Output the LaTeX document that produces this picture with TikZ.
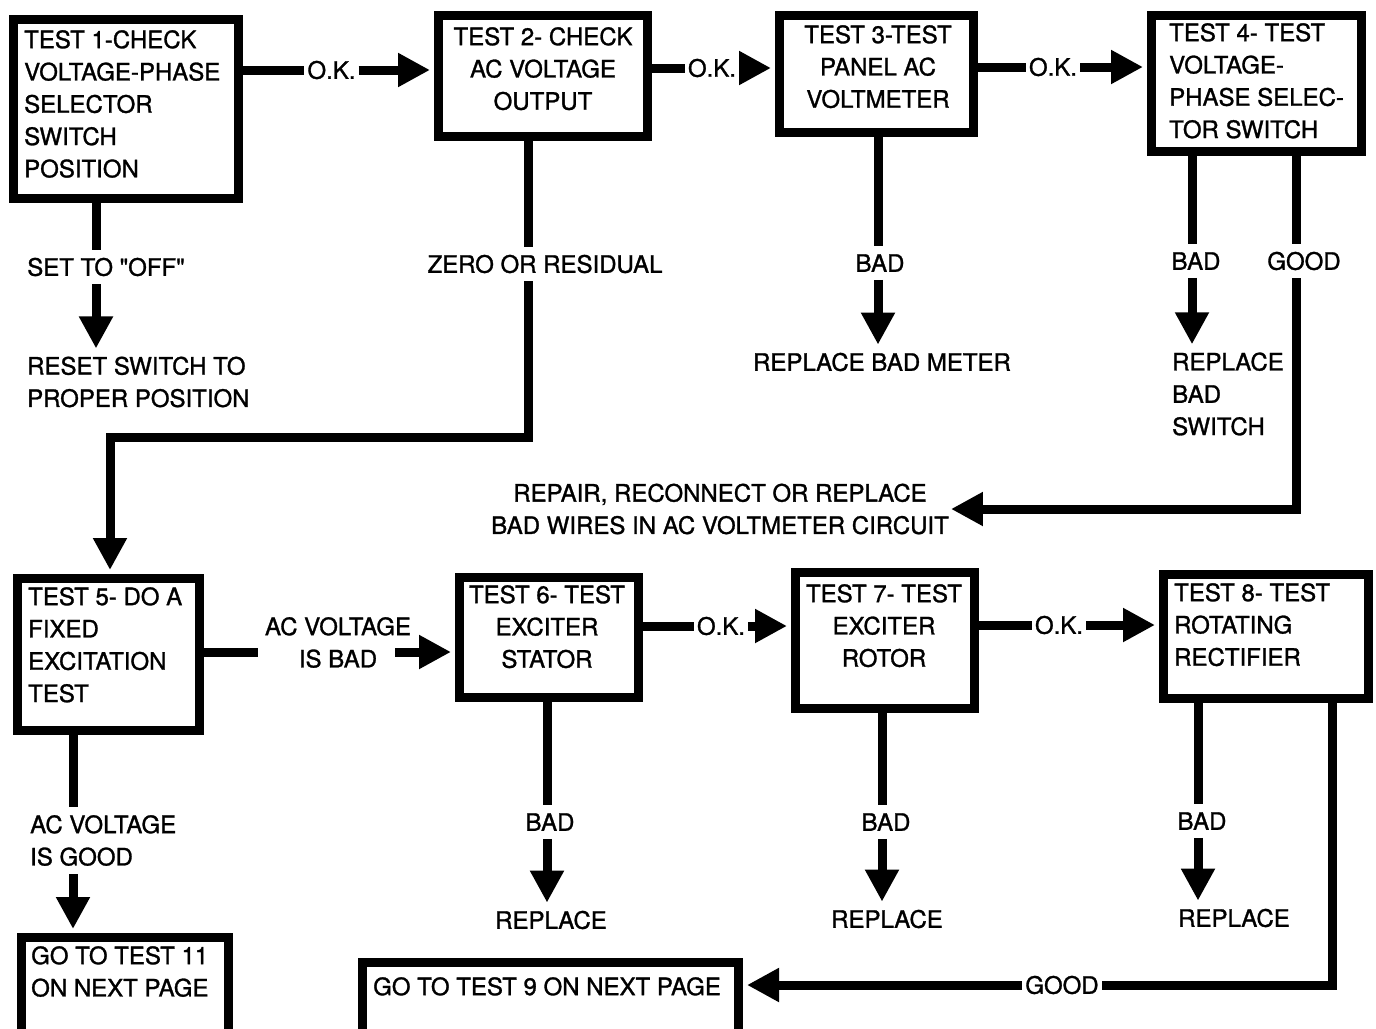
\documentclass[tikz,border=0pt]{standalone}
\usepackage{fontspec}
\setmainfont{TeX Gyre Heros}[Ligatures=TeXOff, FakeBold=1.2]
\usetikzlibrary{arrows.meta,calc}
\newcommand\dsz{\fontsize{24}{32.3}\selectfont}
\tikzset{
  box/.style={draw, line width=9pt, inner sep=0pt},
  txt/.style={inner sep=0pt, font=\dsz, align=left},
  ctxt/.style={inner sep=0pt, font=\dsz, align=center},
  lbl/.style={inner xsep=3pt, inner ysep=8pt, font=\dsz, align=center},
  tgt/.style={inner xsep=2pt, inner ysep=8pt, font=\dsz},
  wire/.style={line width=9pt},
  arr/.style={wire, -{Triangle[length=32pt,width=32pt]}},
  tobox/.style={shorten >=4pt}
}
\begin{document}
\begin{tikzpicture}[x=1pt,y=-1pt]
\useasboundingbox[fill=white] (0,0) rectangle (1376,1028);
% boxes
\node[box, minimum width=225pt, minimum height=179pt] (b1) at (126,109) {};
\node[box, minimum width=209pt, minimum height=121pt] (b2) at (543,76) {};
\node[box, minimum width=194pt, minimum height=117pt] (b3) at (876.5,74) {};
\node[box, minimum width=210pt, minimum height=136pt] (b4) at (1256.5,83.5) {};
\node[box, minimum width=182pt, minimum height=152pt] (b5) at (108.5,654.5) {};
\node[box, minimum width=179pt, minimum height=120pt] (b6) at (549,637.5) {};
\node[box, minimum width=179pt, minimum height=136pt] (b7) at (885,640.5) {};
\node[box, minimum width=205pt, minimum height=124pt] (b8) at (1266,636.5) {};
\node[box, minimum width=207pt, minimum height=103pt] (b9) at (125,989) {};
\node[box, minimum width=376pt, minimum height=78pt] (b10) at (550.5,1001.5) {};
% box texts
\node[txt, anchor=north west] (t1) at (24,30) {TEST 1-CHECK\\VOLTAGE-PHASE\\SELECTOR\\SWITCH\\POSITION};
\node[ctxt, anchor=north] (t2) at (543,27) {TEST 2- CHECK\\AC VOLTAGE\\OUTPUT};
\node[ctxt, anchor=north] (t3) at (878,25) {TEST 3-TEST\\PANEL AC\\VOLTMETER};
\node[txt, anchor=north west] (t4) at (1169,23) {TEST 4- TEST\\VOLTAGE-\\PHASE SELEC-\\TOR SWITCH};
\node[txt, anchor=north west] (t5) at (28,587) {TEST 5- DO A\\FIXED\\EXCITATION\\TEST};
\node[ctxt, anchor=north] (t6) at (547,585) {TEST 6- TEST\\EXCITER\\STATOR};
\node[ctxt, anchor=north] (t7) at (884,584) {TEST 7- TEST\\EXCITER\\ROTOR};
\node[txt, anchor=north west] (t8) at (1174,583) {TEST 8- TEST\\ROTATING\\RECTIFIER};
\node[txt, anchor=north west] (t9) at (31,946) {GO TO TEST 11\\ON NEXT PAGE};
\node[txt, anchor=north west] (t10) at (373,977) {GO TO TEST 9 ON NEXT PAGE};
% labels
\node[lbl] (ok1) at (331.5,70) {O.K.};
\node[lbl] (ok2) at (712,68) {O.K.};
\node[lbl] (ok3) at (1053,67) {O.K.};
\node[lbl] (set) at (106,267) {SET TO "OFF"};
\node[tgt, anchor=west, align=left] (reset) at (25,382) {RESET SWITCH TO\\PROPER POSITION};
\node[lbl] (zero) at (545,264) {ZERO OR RESIDUAL};
\node[lbl] (bad3) at (880,263) {BAD};
\node[tgt] (rmeter) at (882,362) {REPLACE BAD METER};
\node[lbl] (bad4) at (1196,261) {BAD};
\node[lbl] (good4) at (1304,261) {GOOD};
\node[tgt, anchor=west, align=left] (rswitch) at (1170,394) {REPLACE\\BAD\\SWITCH};
\node[tgt, align=center] (repair) at (720,509) {REPAIR, RECONNECT OR REPLACE\\BAD WIRES IN AC VOLTMETER CIRCUIT};
\node[lbl] (acbad) at (338,642.5) {AC VOLTAGE\\IS BAD};
\node[lbl, anchor=west, align=left] (acgood) at (27,840.5) {AC VOLTAGE\\IS GOOD};
\node[lbl] (ok4) at (721,626) {O.K.};
\node[lbl] (ok5) at (1059,625) {O.K.};
\node[lbl] (bad6) at (550,822) {BAD};
\node[tgt] (rep6) at (551,920) {REPLACE};
\node[lbl] (bad7) at (886,822) {BAD};
\node[tgt] (rep7) at (887,919) {REPLACE};
\node[lbl] (bad8) at (1202,821) {BAD};
\node[tgt] (rep8) at (1234,918) {REPLACE};
\node[lbl] (good8) at (1062,985) {GOOD};
% shaft coordinates
\coordinate (s1) at (96,0);
\coordinate (s2) at (528,0);
\coordinate (s3) at (878,0);
\coordinate (s4a) at (1192,0);
\coordinate (s4b) at (1296,0);
\coordinate (s5) at (73,0);
\coordinate (s6) at (547,0);
\coordinate (s7) at (882,0);
\coordinate (s8a) at (1198,0);
\coordinate (s8b) at (1332,0);
\coordinate (k1) at (528,437);
\coordinate (k2) at (110,437);
\coordinate (k5a) at (258,652);
\coordinate (k5b) at (395,652);
% top row connectors
\draw[wire] (b1.east |- ok1) -- (ok1.west);
\draw[arr, tobox] (ok1.east) -- (b2.west |- ok1);
\draw[wire] (b2.east |- ok2) -- (ok2.west);
\draw[arr, tobox] (ok2.east) -- (b3.west |- ok2);
\draw[wire] (b3.east |- ok3) -- (ok3.west);
\draw[arr, tobox] (ok3.east) -- (b4.west |- ok3);
% drops from top row
\draw[wire] (b1.south -| s1) -- (set.north -| s1);
\draw[arr] (set.south -| s1) -- (reset.north -| s1);
\draw[wire] (b2.south -| s2) -- (zero.north -| s2);
\draw[arr, tobox] (zero.south -| s2) -- (k1) -- (k2) -- (b5.north -| k2);
\draw[wire] (b3.south -| s3) -- (bad3.north -| s3);
\draw[arr] (bad3.south -| s3) -- (rmeter.north -| s3);
\draw[wire] (b4.south -| s4a) -- (bad4.north -| s4a);
\draw[arr] (bad4.south -| s4a) -- (rswitch.north -| s4a);
\draw[wire] (b4.south -| s4b) -- (good4.north -| s4b);
\draw[arr] (good4.south -| s4b) |- (repair.east);
% bottom row connectors
\draw[wire] (b5.east |- k5a) -- (k5a);
\draw[arr, tobox] (k5b) -- (b6.west |- k5b);
\draw[wire] (b6.east |- ok4) -- (ok4.west);
\draw[arr, tobox] (ok4.east) -- (b7.west |- ok4);
\draw[wire] (b7.east |- ok5) -- (ok5.west);
\draw[arr, tobox] (ok5.east) -- (b8.west |- ok5);
% drops from bottom row
\draw[wire] (b5.south -| s5) -- (acgood.north -| s5);
\draw[arr, tobox] (acgood.south -| s5) -- (b9.north -| s5);
\draw[wire] (b6.south -| s6) -- (bad6.north -| s6);
\draw[arr] (bad6.south -| s6) -- (rep6.north -| s6);
\draw[wire] (b7.south -| s7) -- (bad7.north -| s7);
\draw[arr] (bad7.south -| s7) -- (rep7.north -| s7);
\draw[wire] (b8.south -| s8a) -- (bad8.north -| s8a);
\draw[arr] (bad8.south -| s8a) -- (rep8.north -| s8a);
\draw[wire] (b8.south -| s8b) |- (good8.east);
\draw[arr, tobox] (good8.west) -- (b10.east |- good8.west);
\end{tikzpicture}
\end{document}
